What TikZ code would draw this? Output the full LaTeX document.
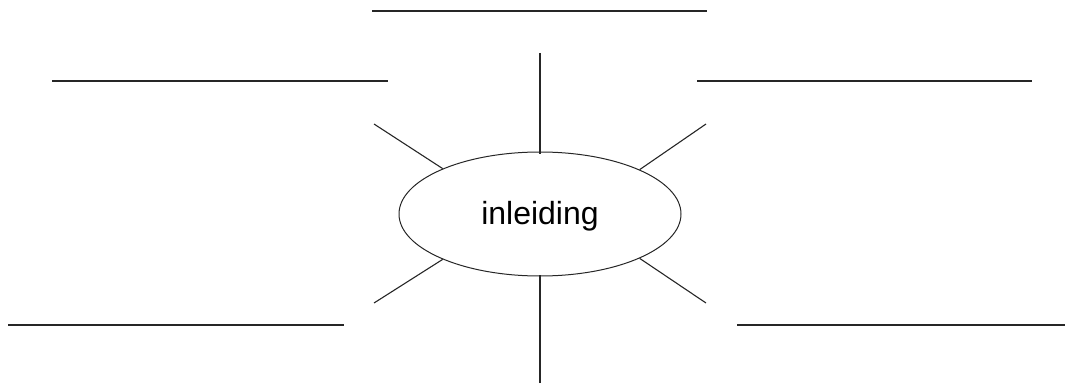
\documentclass[tikz,border=0pt]{standalone}
\usepackage{fontspec}
\setmainfont{Liberation Sans}
\usetikzlibrary{shapes.geometric}
\definecolor{ink}{HTML}{262626}
\begin{document}
\begin{tikzpicture}[x=1pt,y=-1pt,
  spoke/.style={draw=ink,line width=1.1pt},
  wline/.style={draw=ink,line width=1.4pt},
  hub/.style={ellipse,draw=ink,line width=1pt,minimum width=282pt,minimum height=124pt,inner sep=0pt,text height=23pt,text depth=3pt,font=\fontsize{32}{36}\selectfont}]
\useasboundingbox (0,0) rectangle (1065,385);
\node[hub] (c) at (540,214) {inleiding};
% free ends of spokes
\coordinate (t) at (540,53);
\coordinate (b) at (540,383);
\coordinate (ul) at (374,124);
\coordinate (ur) at (706,124);
\coordinate (ll) at (374,303);
\coordinate (lr) at (706,303);
\draw[spoke] (t) -- ([yshift=-2pt]c.north);
\draw[spoke] (b) -- ([yshift=2pt]c.south);
\draw[spoke] (ul) -- (c.155.6);
\draw[spoke] (ur) -- (c.24.4);
\draw[spoke] (ll) -- (c.-155.6);
\draw[spoke] (lr) -- (c.-24.4);
% writing lines
\coordinate (l1a) at (372,11);  \coordinate (l1b) at (707,11);
\coordinate (l2a) at (52,81);   \coordinate (l2b) at (388,81);
\coordinate (l3a) at (697,81);  \coordinate (l3b) at (1032,81);
\coordinate (l4a) at (8,325);   \coordinate (l4b) at (344,325);
\coordinate (l5a) at (737,325); \coordinate (l5b) at (1065,325);
\draw[wline] (l1a) -- (l1b);
\draw[wline] (l2a) -- (l2b);
\draw[wline] (l3a) -- (l3b);
\draw[wline] (l4a) -- (l4b);
\draw[wline] (l5a) -- (l5b);
\end{tikzpicture}
\end{document}
